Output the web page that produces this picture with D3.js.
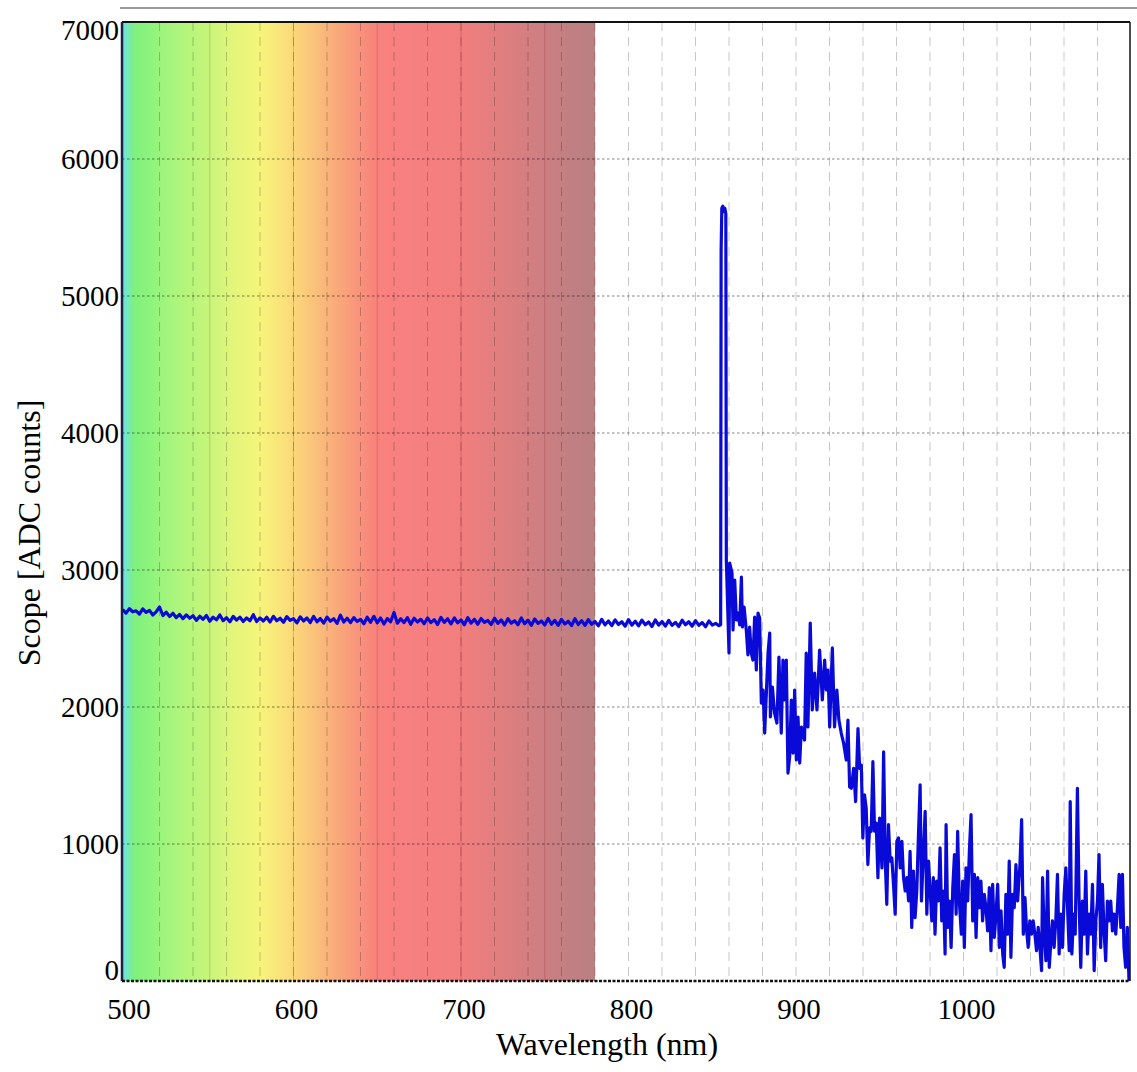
<!DOCTYPE html>
<html>
<head>
<meta charset="utf-8">
<script src="https://cdn.jsdelivr.net/npm/d3@7"></script>
<style>
  body { margin: 0; background: #fff; }
  text { font-family: "Liberation Serif", "Times New Roman", serif; fill: #000; }
</style>
</head>
<body>
<div id="chart"></div>
<script>
(function () {

  // Baseline part of the spectrum, sampled every 2 nm from 498 nm
  const flatStart = 498
  const flatStep = 2
  const flatCounts = [
    2712, 2685, 2718, 2695, 2702, 2678, 2716, 2690, 2705, 2672,
    2694, 2730, 2668, 2692, 2660, 2684, 2652, 2676, 2645, 2672,
    2648, 2666, 2632, 2662, 2640, 2668, 2626, 2656, 2636, 2672,
    2630, 2652, 2622, 2661, 2634, 2656, 2624, 2650, 2630, 2674,
    2624, 2650, 2628, 2655, 2620, 2662, 2630, 2648, 2618, 2660,
    2632, 2645, 2614, 2658, 2628, 2650, 2616, 2662, 2622, 2646,
    2612, 2656, 2626, 2644, 2610, 2670, 2620, 2648, 2616, 2652,
    2624, 2640, 2608, 2655, 2618, 2662, 2614, 2650, 2606, 2646,
    2622, 2690, 2612, 2644, 2616, 2652, 2604, 2648, 2620, 2640,
    2608, 2650, 2616, 2638, 2602, 2654, 2618, 2644, 2606, 2650,
    2614, 2636, 2600, 2652, 2612, 2640, 2604, 2646, 2618, 2632,
    2602, 2648, 2610, 2636, 2598, 2644, 2612, 2630, 2600, 2650,
    2608, 2634, 2596, 2642, 2610, 2628, 2598, 2646, 2604, 2632,
    2596, 2640, 2606, 2626, 2594, 2644, 2602, 2630, 2596, 2638,
    2604, 2624, 2592, 2640, 2600, 2628, 2594, 2636, 2602, 2622,
    2590, 2638, 2598, 2626, 2592, 2634, 2600, 2620, 2588, 2636,
    2598, 2624, 2590, 2632, 2596, 2618, 2588, 2634, 2600, 2622,
    2590, 2630, 2596, 2616, 2586, 2628, 2598, 2610, 2594
  ]

  // Peak and noisy tail, read point by point
  const tailWl = [
    855.0, 855.3, 855.7, 856.3, 856.9, 857.5, 858.1, 858.4,
    860.0, 860.4, 861.8, 862.4, 863.4, 864.4, 865.4, 866.4, 867.4, 868.0, 869.0, 870.3,
    871.3, 872.3, 873.3, 874.3, 875.3, 876.3, 877.3, 878.3, 879.3, 880.3,
    881.3, 882.3, 883.3, 884.3, 884.7, 885.9, 887.2, 888.6, 889.8, 891.2,
    892.2, 893.2, 894.2, 895.2, 896.2, 897.2, 898.2, 899.2, 900.2, 901.2,
    902.2, 903.2, 905.1, 906.1, 907.1, 908.5, 909.7, 911.1, 912.5, 914.1,
    915.7, 917.1, 918.1, 919.1, 920.1, 921.7, 923.0, 924.4, 925.6, 927.0,
    928.4, 930.0, 931.0, 932.0,
    933.0, 934.4, 935.6, 937.0, 938.0, 939.0, 939.9, 940.9, 941.9, 942.9,
    943.9, 944.9, 945.9, 946.9, 947.9, 948.9, 949.9, 951.3, 952.3, 953.3,
    954.2, 955.2, 956.2, 957.2, 958.2, 959.2, 960.2, 961.2, 962.2, 963.2,
    964.2, 965.2, 966.2, 967.2, 968.1, 969.1, 970.1, 971.1, 972.1, 973.1,
    974.1, 974.9, 976.1, 977.1, 978.1, 979.1, 980.1, 981.1, 982.0, 983.0,
    984.0, 985.0, 986.0, 987.0, 988.0, 989.0, 989.6, 990.6, 991.6, 992.6,
    993.6, 994.6, 995.6, 996.5, 997.5, 998.7, 999.5, 1000.5, 1001.5, 1002.5,
    1003.5, 1004.5, 1005.5, 1006.5, 1007.5, 1008.5, 1009.5, 1010.4, 1011.4, 1012.4,
    1013.4, 1014.4, 1015.4, 1016.4, 1017.4, 1018.4, 1019.4, 1020.4, 1021.4, 1022.4,
    1023.4, 1024.3, 1025.3, 1026.3, 1027.3, 1028.3, 1029.3, 1030.3, 1031.3, 1032.3,
    1033.7, 1034.7, 1035.7, 1036.7, 1037.7, 1038.6, 1039.6, 1040.6, 1041.6, 1042.6,
    1043.6, 1044.6, 1045.6, 1046.6, 1047.2, 1048.2, 1049.2, 1050.2, 1051.2, 1052.2,
    1053.1, 1054.1, 1055.1, 1056.1, 1057.1, 1058.1, 1059.1, 1060.1, 1061.1, 1062.1,
    1063.1, 1063.7, 1064.7, 1065.7, 1066.7, 1068.0, 1069.0, 1070.0, 1071.0, 1072.0,
    1073.0, 1074.0, 1075.0, 1076.0, 1077.0, 1078.0, 1079.0, 1080.0, 1080.9, 1081.9,
    1082.9, 1083.9, 1084.9, 1085.9, 1086.9, 1087.9, 1088.9, 1089.9, 1090.9, 1091.9,
    1092.9, 1093.9, 1094.9, 1095.8, 1096.8, 1097.8, 1098.8
  ]
  const tailCounts = [
    2600, 5336, 5640, 5655, 5615, 5640, 5600, 3073,
    2394, 3051, 2978, 2562, 2927, 2635, 2686, 2599, 2949, 2584, 2730, 2562,
    2380, 2584, 2394, 2343, 2657, 2270, 2686, 2650, 2029, 2124,
    1810, 2102, 2394, 2540, 1927, 2146, 1956, 1883, 2365, 1810,
    2343, 2051, 2343, 1518, 1635, 2051, 1664, 2124, 1613, 1927,
    1591, 1854, 1759, 2394, 1854, 2613, 1978, 2248, 1978, 2416,
    2051, 2343, 2124, 2270, 1854, 2431, 1854, 2124, 1905, 1810,
    1737, 1613, 1905, 1416,
    1407, 1552, 1310, 1843, 1552, 1576, 1044, 1359, 1262, 850,
    1117, 1093, 1601, 1093, 1153, 754, 1189, 826, 1673, 875,
    560, 1141, 875, 899, 705, 488, 1020, 1044, 826, 1020,
    754, 657, 754, 584, 947, 391, 802, 463, 657, 1068,
    1431, 584, 947, 1238, 488, 875, 657, 439, 754, 342,
    730, 584, 972, 439, 657, 197, 1141, 391, 584, 245,
    681, 923, 488, 1093, 584, 342, 730, 245, 826, 584,
    947, 1214, 439, 778, 318, 754, 535, 730, 439, 633,
    535, 366, 681, 221, 705, 318, 488, 705, 245, 512,
    197, 100, 633, 342, 875, 173, 633, 535, 850, 584,
    850, 1178, 342, 608, 366, 245, 439, 342, 439, 342,
    221, 391, 245, 76, 754, 342, 148, 802, 100, 294,
    439, 245, 439, 778, 197, 488, 245, 633, 826, 535,
    221, 1310, 197, 488, 342, 1407, 584, 100, 584, 342,
    802, 197, 488, 342, 705, 76, 439, 584, 923, 245,
    705, 366, 148, 584, 439, 584, 366, 488, 342, 535,
    778, 391, 778, 245, 100, 391, 0
  ]

  // Axis ticks
  const xTicks = [500, 600, 700, 800, 900, 1000]
  const yTicks = [0, 1000, 2000, 3000, 4000, 5000, 6000, 7000]
  const xGrid = [520, 540, 560, 580, 600, 620, 640, 660, 680, 700, 720, 740, 760, 780,
                 800, 820, 840, 860, 880, 900, 920, 940, 960, 980, 1000, 1020, 1040, 1060, 1080]
  const bandLines = [550, 600, 650, 700, 750]

  // Visible-light band behind the left part
  const bandStops = [
    [497.6, "#5fd3ee"], [499.5, "#70e6d0"], [505, "#80f07e"], [515, "#8ef47c"],
    [530, "#adf57c"], [550, "#c8f57a"], [565, "#e4f67a"], [580, "#f6f47a"],
    [595, "#fbe07a"], [605, "#fbcf7a"], [620, "#f9b47a"], [635, "#f99a7b"],
    [648, "#f8847c"], [660, "#f88080"], [700, "#f27e7e"], [730, "#dc7e80"],
    [760, "#c47f82"], [780, "#b98082"]
  ]
  const bandEnd = 780

  const width = 1137
  const height = 1072
  const plot = { left: 122, right: 1130, top: 22, bottom: 981 }

  const svg = d3.select("#chart").append("svg")
      .attr("width", width)
      .attr("height", height)

  const x = d3.scaleLinear()
    .domain([497.6, 1099.4])
    .range([plot.left, plot.right])

  const y = d3.scaleLinear()
    .domain([0, 7000])
    .range([plot.bottom, plot.top])

  const defs = svg.append("defs")
  const grad = defs.append("linearGradient")
    .attr("id", "band")
    .attr("gradientUnits", "userSpaceOnUse")
    .attr("x1", x(bandStops[0][0]))
    .attr("x2", x(bandEnd))
    .attr("y1", 0).attr("y2", 0)
  grad.selectAll("stop")
    .data(bandStops)
    .join("stop")
    .attr("offset", d => (x(d[0]) - x(bandStops[0][0])) / (x(bandEnd) - x(bandStops[0][0])))
    .attr("stop-color", d => d[1])

  defs.append("clipPath").attr("id", "clip")
    .append("rect")
    .attr("x", plot.left).attr("y", plot.top)
    .attr("width", plot.right - plot.left)
    .attr("height", plot.bottom - plot.top)

  // outer frame line on top
  svg.append("line")
    .attr("x1", 120).attr("x2", width)
    .attr("y1", 8).attr("y2", 8)
    .attr("stroke", "#9a9a9a").attr("stroke-width", 2)

  // coloured band
  svg.append("rect")
    .attr("x", plot.left).attr("y", plot.top)
    .attr("width", x(bandEnd) - plot.left)
    .attr("height", plot.bottom - plot.top)
    .attr("fill", "url(#band)")

  svg.selectAll(".band-line")
    .data(bandLines)
    .join("line")
    .attr("class", "band-line")
    .attr("x1", d => x(d)).attr("x2", d => x(d))
    .attr("y1", plot.top).attr("y2", plot.bottom)
    .attr("stroke", "rgba(120,0,0,0.18)")
    .attr("stroke-width", 1)

  // grid
  svg.selectAll(".vgrid")
    .data(xGrid)
    .join("line")
    .attr("class", "vgrid")
    .attr("x1", d => x(d)).attr("x2", d => x(d))
    .attr("y1", plot.top).attr("y2", plot.bottom)
    .attr("stroke", "rgba(0,0,0,0.22)")
    .attr("stroke-dasharray", "9,6")

  svg.selectAll(".hgrid")
    .data(yTicks.filter(d => d > 0 && d < 7000))
    .join("line")
    .attr("class", "hgrid")
    .attr("x1", plot.left).attr("x2", plot.right)
    .attr("y1", d => y(d)).attr("y2", d => y(d))
    .attr("stroke", "rgba(0,0,0,0.32)")
    .attr("stroke-width", 1.5)
    .attr("stroke-dasharray", "2.5,2.5")

  // spectrum
  const points = flatCounts.map((c, i) => [flatStart + i * flatStep, c])
    .concat(tailWl.map((w, i) => [w, tailCounts[i]]))

  const line = d3.line()
    .x(d => x(d[0]))
    .y(d => y(d[1]))

  svg.append("path")
    .datum(points)
    .attr("clip-path", "url(#clip)")
    .attr("d", line)
    .attr("fill", "none")
    .attr("stroke", "#0a0ad8")
    .attr("stroke-width", 3.2)
    .attr("stroke-linejoin", "round")

  // frame
  svg.append("line")
    .attr("x1", plot.left).attr("x2", plot.right)
    .attr("y1", plot.top).attr("y2", plot.top)
    .attr("stroke", "#111").attr("stroke-width", 2)
  svg.append("line")
    .attr("x1", plot.right).attr("x2", plot.right)
    .attr("y1", plot.top).attr("y2", plot.bottom)
    .attr("stroke", "#111").attr("stroke-width", 1.5)
  svg.append("line")
    .attr("x1", plot.left).attr("x2", plot.left)
    .attr("y1", plot.top).attr("y2", plot.bottom)
    .attr("stroke", "#1c2340").attr("stroke-width", 2.5)
  svg.append("line")
    .attr("x1", plot.left).attr("x2", plot.right)
    .attr("y1", plot.bottom).attr("y2", plot.bottom)
    .attr("stroke", "#111").attr("stroke-width", 2.5)
    .attr("stroke-dasharray", "3,1.5")

  // tick labels
  svg.selectAll(".xlab")
    .data(xTicks)
    .join("text")
    .attr("class", "xlab")
    .attr("x", d => x(d) + 3)
    .attr("y", 1019)
    .attr("text-anchor", "middle")
    .style("font-size", "29px")
    .text(d => d)

  svg.selectAll(".ylab")
    .data(yTicks)
    .join("text")
    .attr("class", "ylab")
    .attr("x", 119)
    .attr("y", d => Math.min(970, Math.max(30, y(d))))
    .attr("dy", "0.35em")
    .attr("text-anchor", "end")
    .style("font-size", "29px")
    .text(d => d)

  // axis titles
  svg.append("text")
    .attr("x", 607).attr("y", 1055)
    .attr("text-anchor", "middle")
    .style("font-size", "32px")
    .text("Wavelength (nm)")

  svg.append("text")
    .attr("transform", "translate(40,533) rotate(-90)")
    .attr("text-anchor", "middle")
    .style("font-size", "32px")
    .text("Scope [ADC counts]")

})();
</script>
</body>
</html>
